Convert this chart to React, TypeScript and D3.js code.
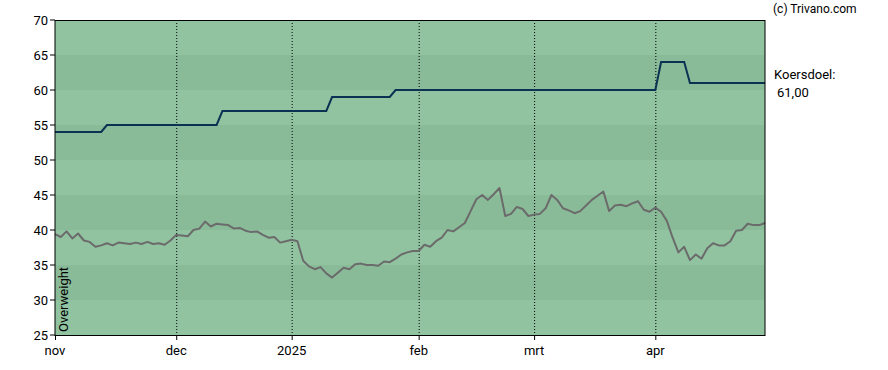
import * as d3 from "d3";

// trading-day index of each month label
const monthTicks = [
  { label: "nov", idx: 0 },
  { label: "dec", idx: 21 },
  { label: "2025", idx: 41 },
  { label: "feb", idx: 63 },
  { label: "mrt", idx: 83 },
  { label: "apr", idx: 104 },
];
const lastIdx = 123;

const yTicks = [25, 30, 35, 40, 45, 50, 55, 60, 65, 70];

// closing price per trading day
const price = [
  39.4, 39.0, 39.8, 38.8, 39.5, 38.5, 38.3, 37.6, 37.8, 38.1,
  37.8, 38.2, 38.1, 38.0, 38.2, 38.0, 38.3, 38.0, 38.1, 37.9,
  38.5, 39.3, 39.2, 39.1, 40.0, 40.2, 41.2, 40.5, 40.9, 40.8,
  40.7, 40.2, 40.3, 39.9, 39.7, 39.8, 39.3, 38.9, 39.0, 38.2,
  38.4, 38.6, 38.4, 35.6, 34.8, 34.4, 34.7, 33.8, 33.2, 33.9,
  34.6, 34.4, 35.1, 35.2, 35.0, 35.0, 34.9, 35.5, 35.4, 35.9,
  36.5, 36.8, 37.0, 37.0, 37.9, 37.6, 38.4, 38.9, 40.0, 39.8,
  40.4, 41.0, 42.7, 44.4, 45.0, 44.3, 45.1, 46.0, 42.0, 42.3,
  43.3, 43.0, 42.0, 42.2, 42.3, 43.1, 45.0, 44.3, 43.1, 42.8,
  42.4, 42.7, 43.5, 44.3, 44.9, 45.5, 42.7, 43.5, 43.6, 43.4,
  43.8, 44.1, 42.9, 42.6, 43.2, 42.6, 41.3, 38.9, 36.8, 37.6,
  35.7, 36.5, 35.9, 37.4, 38.1, 37.8, 37.8, 38.4, 39.9, 40.0,
  40.9, 40.7, 40.7, 41.0,
];

// analyst target (koersdoel) at the days it changes
const targetIdx = [0, 8, 9, 28, 29, 47, 48, 58, 59, 104, 105, 109, 110, 123];
const targetVal = [54, 54, 55, 55, 57, 57, 59, 59, 60, 60, 64, 64, 61, 61];

const W = 888;
const H = 370;
const m = { top: 20, right: 123, bottom: 35, left: 55 };

export default function App() {
  const x = d3.scaleLinear().domain([0, lastIdx]).range([m.left, W - m.right]);
  const y = d3.scaleLinear().domain([25, 70]).range([H - m.bottom, m.top]);

  const priceLine = d3
    .line<number>()
    .x((_, i) => x(i))
    .y((d) => y(d));

  const targetLine = d3
    .line<number>()
    .x((d) => x(d))
    .y((_, i) => y(targetVal[i]));

  const bands = d3.range(25, 70, 5);
  const font = "Roboto, sans-serif";

  return (
    <svg
      width={W}
      height={H}
      style={{ position: "absolute", left: 0, top: 0 }}
      fontFamily={font}
    >
      {bands.map((b) => (
        <rect
          key={b}
          x={x(0)}
          y={y(b + 5)}
          width={x(lastIdx) - x(0)}
          height={y(b) - y(b + 5)}
          fill={(b / 5) % 2 === 0 ? "#8abb99" : "#91c3a1"}
        />
      ))}
      {monthTicks.slice(1).map((t) => (
        <line
          key={t.label}
          x1={x(t.idx) + 0.5}
          x2={x(t.idx) + 0.5}
          y1={y(70)}
          y2={y(25)}
          stroke="#000"
          strokeDasharray="1,2"
        />
      ))}
      <path
        d={priceLine(price) || ""}
        fill="none"
        stroke="#6b6b6b"
        strokeWidth={2}
        strokeLinejoin="round"
      />
      <path
        d={targetLine(targetIdx) || ""}
        fill="none"
        stroke="#0b3253"
        strokeWidth={2}
      />
      <rect
        x={x(0)}
        y={y(70) + 0.5}
        width={x(lastIdx) - x(0)}
        height={y(25) - y(70)}
        fill="none"
        stroke="#000"
      />
      {yTicks.map((v) => (
        <g key={v}>
          <line x1={x(0) - 5} x2={x(0)} y1={y(v)} y2={y(v)} stroke="#000" />
          <text
            x={x(0) - 7}
            y={y(v)}
            dy="0.35em"
            textAnchor="end"
            fontSize={13}
            fill="#000"
          >
            {v}
          </text>
        </g>
      ))}
      {monthTicks.map((t) => (
        <g key={t.label}>
          <line
            x1={x(t.idx) + 0.5}
            x2={x(t.idx) + 0.5}
            y1={y(25)}
            y2={y(25) + 5}
            stroke="#000"
          />
          <text
            x={x(t.idx)}
            y={y(25) + 20}
            textAnchor="middle"
            fontSize={13}
            fill="#000"
          >
            {t.label}
          </text>
        </g>
      ))}
      <text
        transform={`translate(${x(0) + 13},${y(25) - 3}) rotate(-90)`}
        fontSize={13}
        fill="#000"
      >
        Overweight
      </text>
      <text x={773} y={13} fontSize={12} fill="#000">
        (c) Trivano.com
      </text>
      <text x={774} y={79} fontSize={13} fill="#000">
        Koersdoel:
      </text>
      <text x={777} y={97} fontSize={13} fill="#000">
        61,00
      </text>
    </svg>
  );
}
